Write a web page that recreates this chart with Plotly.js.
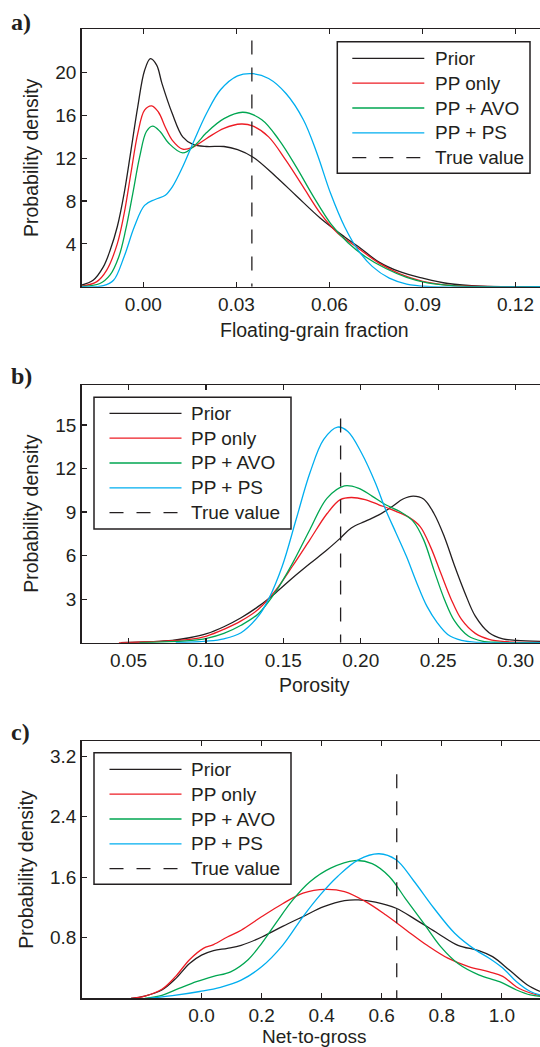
<!DOCTYPE html>
<html><head><meta charset="utf-8">
<script src="https://cdn.plot.ly/plotly-3.0.1.min.js"></script>
<style>html,body{margin:0;padding:0;background:#fff}#chart{width:540px;height:1047px}</style>
</head><body><div id="chart"></div>
<script>
// ---------- labels ----------
const seriesNames = ['Prior', 'PP only', 'PP + AVO', 'PP + PS', 'True value'];
const seriesColors = ['#231f20', '#ed1c24', '#00a651', '#00aeef', '#231f20'];
const panelLabels = ['a)', 'b)', 'c)'];
const xTitles = ['Floating-grain fraction', 'Porosity', 'Net-to-gross'];
const yTitle = 'Probability density';

// ---------- panel a : floating-grain fraction ----------
const aPriorX = [-0.0199,-0.0162,-0.0129,-0.0107,-0.0084,-0.0062,-0.0040,-0.0018,0.0004,0.0023,0.0043,0.0060,0.0093,0.0127,0.0160,0.0204,0.0260,0.0304,0.0354,0.0427,0.0493,0.0571,0.0649,0.0693,0.0760,0.0827,0.0901,0.0982,0.1093,0.128];
const aPriorY = [0.15,0.6,1.85,3.4,5.6,8.7,12.7,16.8,20.2,21.3,20.7,19.0,16.2,14.0,13.3,13.1,13.1,12.8,12.1,10.3,8.5,6.4,4.65,3.75,2.3,1.4,0.8,0.3,0.05,0.0];
const aPPX = [-0.0199,-0.0151,-0.0118,-0.0084,-0.0062,-0.0040,-0.0018,0.0004,0.0027,0.0049,0.0071,0.0093,0.0127,0.0160,0.0204,0.0260,0.0316,0.0354,0.0404,0.0460,0.0516,0.0571,0.0627,0.0693,0.0760,0.0827,0.0901,0.0982,0.1093,0.128];
const aPPY = [0.05,0.45,1.55,4.0,6.8,10.6,14.3,16.5,16.9,16.3,14.9,13.7,12.85,13.05,13.85,14.8,15.2,15.0,14.0,11.8,9.3,6.85,5.0,3.6,2.2,1.2,0.5,0.15,0.02,0.0];
const aAVOX = [-0.0199,-0.0140,-0.0107,-0.0079,-0.0057,-0.0034,-0.0012,0.0010,0.0030,0.0054,0.0082,0.0127,0.0166,0.0204,0.0260,0.0321,0.0382,0.0438,0.0493,0.0549,0.0604,0.0660,0.0716,0.0782,0.0849,0.0916,0.1004,0.1093,0.128];
const aAVOY = [0.02,0.3,1.1,2.8,5.3,8.7,12.1,14.5,15.0,14.5,13.4,12.5,13.2,14.4,15.7,16.3,15.6,13.7,11.2,8.4,5.9,4.1,2.8,1.7,0.87,0.35,0.08,0.0,0.0];
const aPSX = [-0.0199,-0.0129,-0.0096,-0.0062,-0.0029,0.0004,0.0038,0.0071,0.0093,0.0127,0.0160,0.0204,0.0249,0.0304,0.0354,0.0404,0.0460,0.0516,0.0560,0.0604,0.0649,0.0693,0.0738,0.0793,0.0849,0.0916,0.128];
const aPSY = [0.0,0.1,0.6,2.8,5.6,7.6,8.15,8.55,9.3,11.2,13.4,16.2,18.4,19.7,19.9,19.45,18.05,15.6,12.45,8.7,5.6,3.4,1.9,0.8,0.25,0.03,0.0];
const aTrue = 0.035, aTrueTop = 23.0;
const aXTicks = [0, 0.03, 0.06, 0.09, 0.12], aXTickText = ['0.00','0.03','0.06','0.09','0.12'];
const aYTicks = [4, 8, 12, 16, 20], aYTickText = ['4','8','12','16','20'];

// ---------- panel b : porosity ----------
const bPriorX = [0.045,0.0782,0.0894,0.1005,0.1116,0.1227,0.1339,0.1450,0.1561,0.1672,0.1783,0.1868,0.1939,0.2028,0.2117,0.2206,0.2273,0.2339,0.2406,0.2473,0.2540,0.2606,0.2673,0.2740,0.2829,0.2918,0.3007,0.3158];
const bPriorY = [0.0,0.16,0.34,0.62,1.1,1.72,2.5,3.43,4.47,5.45,6.4,7.2,7.9,8.36,8.8,9.4,9.9,10.1,9.9,8.9,7.3,5.3,3.43,1.83,0.69,0.27,0.16,0.09];
const bPPX = [0.0438,0.0894,0.1005,0.1116,0.1227,0.1339,0.1450,0.1561,0.1672,0.1783,0.1868,0.1939,0.2028,0.2117,0.2228,0.2317,0.2384,0.2451,0.2517,0.2584,0.2651,0.2740,0.2829,0.2940,0.3158];
const bPPY = [0.0,0.23,0.46,0.92,1.5,2.3,3.6,5.3,7.1,8.9,9.85,10.0,9.85,9.5,9.05,8.6,8.0,6.6,4.8,3.0,1.6,0.64,0.23,0.07,0.02];
const bAVOX = [0.0571,0.0894,0.1005,0.1116,0.1227,0.1339,0.1450,0.1561,0.1672,0.1783,0.1895,0.1984,0.2073,0.2161,0.2250,0.2339,0.2406,0.2473,0.2540,0.2606,0.2695,0.2784,0.2895,0.3158];
const bAVOY = [0.0,0.14,0.3,0.64,1.2,2.0,3.5,5.5,7.8,9.96,10.8,10.65,10.1,9.5,9.05,8.36,7.1,5.0,3.0,1.5,0.46,0.11,0.02,0.0];
const bPSX = [0.0805,0.1005,0.1116,0.1227,0.1339,0.1405,0.1494,0.1583,0.1672,0.1761,0.1850,0.1917,0.2006,0.2095,0.2161,0.2228,0.2295,0.2362,0.2428,0.2495,0.2562,0.2651,0.2762,0.3158];
const bPSY = [0.0,0.11,0.27,0.69,1.83,3.0,5.3,8.5,11.7,14.0,14.85,14.55,13.05,11.0,9.16,7.56,5.95,4.12,2.5,1.37,0.57,0.16,0.02,0.0];
const bTrue = 0.187, bTrueTop = 15.45;
const bXTicks = [0.05, 0.10, 0.15, 0.20, 0.25, 0.30], bXTickText = ['0.05','0.10','0.15','0.20','0.25','0.30'];
const bYTicks = [3, 6, 9, 12, 15], bYTickText = ['3','6','9','12','15'];

// ---------- panel c : net-to-gross ----------
const cPriorX = [-0.235,-0.189,-0.132,-0.086,-0.040,0.0,0.040,0.086,0.132,0.201,0.270,0.338,0.407,0.476,0.522,0.579,0.648,0.717,0.786,0.854,0.923,0.969,1.026,1.084,1.127];
const cPriorY = [0.0,0.03,0.11,0.26,0.46,0.57,0.63,0.66,0.70,0.81,0.95,1.08,1.21,1.29,1.30,1.27,1.19,1.03,0.86,0.70,0.63,0.55,0.37,0.18,0.09];
const cPPX = [-0.235,-0.189,-0.132,-0.086,-0.040,0.006,0.040,0.086,0.132,0.201,0.270,0.338,0.413,0.476,0.545,0.614,0.682,0.751,0.820,0.889,0.958,1.003,1.049,1.095,1.127];
const cPPY = [0.0,0.03,0.12,0.29,0.51,0.66,0.71,0.81,0.90,1.08,1.25,1.39,1.44,1.41,1.28,1.10,0.90,0.70,0.53,0.42,0.35,0.29,0.15,0.07,0.035];
const cAVOX = [-0.189,-0.132,-0.075,-0.017,0.040,0.097,0.155,0.201,0.247,0.304,0.361,0.430,0.510,0.568,0.625,0.682,0.740,0.797,0.854,0.923,0.992,1.049,1.095,1.127];
const cAVOY = [0.0,0.04,0.13,0.22,0.29,0.35,0.51,0.73,0.99,1.30,1.54,1.72,1.82,1.78,1.61,1.30,0.99,0.68,0.46,0.31,0.22,0.11,0.044,0.026];
const cPSX = [-0.178,-0.097,-0.006,0.063,0.132,0.201,0.270,0.338,0.396,0.453,0.522,0.591,0.648,0.705,0.774,0.843,0.912,0.958,1.003,1.049,1.095,1.127];
const cPSY = [0.0,0.035,0.09,0.145,0.24,0.42,0.70,1.08,1.37,1.61,1.83,1.91,1.83,1.56,1.19,0.86,0.64,0.53,0.40,0.22,0.09,0.044];
const cTrue = 0.65, cTrueTop = 2.96;
const cXTicks = [0.0, 0.2, 0.4, 0.6, 0.8, 1.0], cXTickText = ['0.0','0.2','0.4','0.6','0.8','1.0'];
const cYTicks = [0.8, 1.6, 2.4, 3.2], cYTickText = ['0.8','1.6','2.4','3.2'];

// ---------- layout helpers ----------
const W = 540, H = 1047;
const px = v => v / W, py = v => 1 - v / H;
const FONT = 'Liberation Sans, Arial, Helvetica, sans-serif';
const TXT = '#231f20';
const DASH = '14px,13px';

const panels = [
  {curves:[[aPriorX,aPriorY],[aPPX,aPPY],[aAVOX,aAVOY],[aPSX,aPSY]], tv:aTrue, tvTop:aTrueTop,
   xr:[-0.0199,0.1279], yr:[0,24.05], xt:aXTicks, xtt:aXTickText, yt:aYTicks, ytt:aYTickText,
   top:29.3, bot:286.7, leg:{x0:337.3,x1:530,y0:41.7,y1:173.3,l0:352.3,l1:424.3,tx:433.3,r0:58.3},
   lab:21.5, xtitleY:330, xtitleSize:19.5, ytitleX:31},
  {curves:[[bPriorX,bPriorY],[bPPX,bPPY],[bAVOX,bAVOY],[bPSX,bPSY]], tv:bTrue, tvTop:bTrueTop,
   xr:[0.0197,0.3158], yr:[0,17.75], xt:bXTicks, xtt:bXTickText, yt:bYTicks, ytt:bYTickText,
   top:385, bot:642.7, leg:{x0:94,x1:291,y0:397.3,y1:529,l0:109.5,l1:181.5,tx:189.4,r0:413.3},
   lab:376, xtitleY:685, xtitleSize:19.5, ytitleX:31},
  {curves:[[cPriorX,cPriorY],[cPPX,cPPY],[cAVOX,cAVOY],[cPSX,cPSY]], tv:cTrue, tvTop:cTrueTop,
   xr:[-0.3993,1.127], yr:[0,3.40], xt:cXTicks, xtt:cXTickText, yt:cYTicks, ytt:cYTickText,
   top:741, bot:998.3, leg:{x0:94,x1:291,y0:752.7,y1:884.3,l0:109.5,l1:181.5,tx:189.4,r0:769.3},
   lab:732, xtitleY:1036.5, xtitleSize:19, ytitleX:26}
];

const traces = [], shapes = [], annotations = [];
const layout = {
  width: W, height: H, margin: {l:0, r:0, t:0, b:0},
  paper_bgcolor: '#fff', plot_bgcolor: '#fff', showlegend: false,
  font: {family: FONT, size: 19, color: TXT}
};
const ROW = 24.85;

panels.forEach((p, i) => {
  const n = i === 0 ? '' : String(i + 1);
  const xa = 'x' + n, ya = 'y' + n;
  p.curves.forEach((c, k) => {
    traces.push({x: c[0], y: c[1], xaxis: xa, yaxis: ya, type: 'scatter', mode: 'lines',
      name: seriesNames[k], line: {color: seriesColors[k], width: 1.3, shape: 'spline', smoothing: 1}});
  });
  traces.push({x: [p.tv, p.tv], y: [p.tvTop, 0], xaxis: xa, yaxis: ya, type: 'scatter', mode: 'lines',
    name: seriesNames[4], line: {color: seriesColors[4], width: 1.3, dash: DASH}});

  layout['xaxis' + n] = {domain: [px(81.6), 1], range: p.xr, anchor: ya,
    showline: true, linecolor: '#231f20', linewidth: 1.5, mirror: 'ticks',
    ticks: 'inside', ticklen: 5, tickwidth: 1.2, tickcolor: '#231f20',
    tickvals: p.xt, ticktext: p.xtt, ticklabelstandoff: i === 2 ? -1 : 0,
    showgrid: false, zeroline: false, tickfont: {family: FONT, size: 19, color: TXT}};
  layout['yaxis' + n] = {domain: [py(p.bot), py(p.top)], range: p.yr, anchor: xa,
    showline: true, linecolor: '#231f20', linewidth: 1.5, mirror: false,
    ticks: 'inside', ticklen: 5, tickwidth: 1.2, tickcolor: '#231f20',
    tickvals: p.yt, ticktext: p.ytt, ticklabelstandoff: 0,
    showgrid: false, zeroline: false, tickfont: {family: FONT, size: 19, color: TXT}};

  // panel label
  annotations.push({xref: 'paper', yref: 'paper', x: px(9), y: py(p.lab), xanchor: 'left', yanchor: 'middle',
    text: '<b>' + panelLabels[i] + '</b>', showarrow: false,
    font: {family: 'Liberation Serif, Times New Roman, serif', size: 24, color: TXT}});
  // axis titles
  annotations.push({xref: 'paper', yref: 'paper', x: px(314), y: py(p.xtitleY), xanchor: 'center', yanchor: 'middle',
    text: xTitles[i], showarrow: false, font: {family: FONT, size: p.xtitleSize, color: TXT}});
  annotations.push({xref: 'paper', yref: 'paper', x: px(p.ytitleX), y: py((p.top + p.bot) / 2), xanchor: 'center', yanchor: 'middle',
    text: yTitle, textangle: -90, showarrow: false, font: {family: FONT, size: 19.5, color: TXT}});

  // legend box
  const L = p.leg;
  shapes.push({type: 'rect', xref: 'paper', yref: 'paper', x0: px(L.x0), x1: px(L.x1), y0: py(L.y1), y1: py(L.y0),
    line: {color: '#231f20', width: 1.5}, fillcolor: '#fff', layer: 'above'});
  seriesNames.forEach((nm, k) => {
    const yy = L.r0 + ROW * k;
    shapes.push({type: 'line', xref: 'paper', yref: 'paper', x0: px(L.l0), x1: px(L.l1), y0: py(yy), y1: py(yy),
      line: {color: seriesColors[k], width: 1.3, dash: k === 4 ? DASH : 'solid'}, layer: 'above'});
    annotations.push({xref: 'paper', yref: 'paper', x: px(L.tx), y: py(yy), xanchor: 'left', yanchor: 'middle',
      text: nm, showarrow: false, font: {family: FONT, size: 19, color: TXT}});
  });
});

layout.shapes = shapes;
layout.annotations = annotations;
Plotly.newPlot('chart', traces, layout, {staticPlot: true, displayModeBar: false});
</script>
</body></html>
